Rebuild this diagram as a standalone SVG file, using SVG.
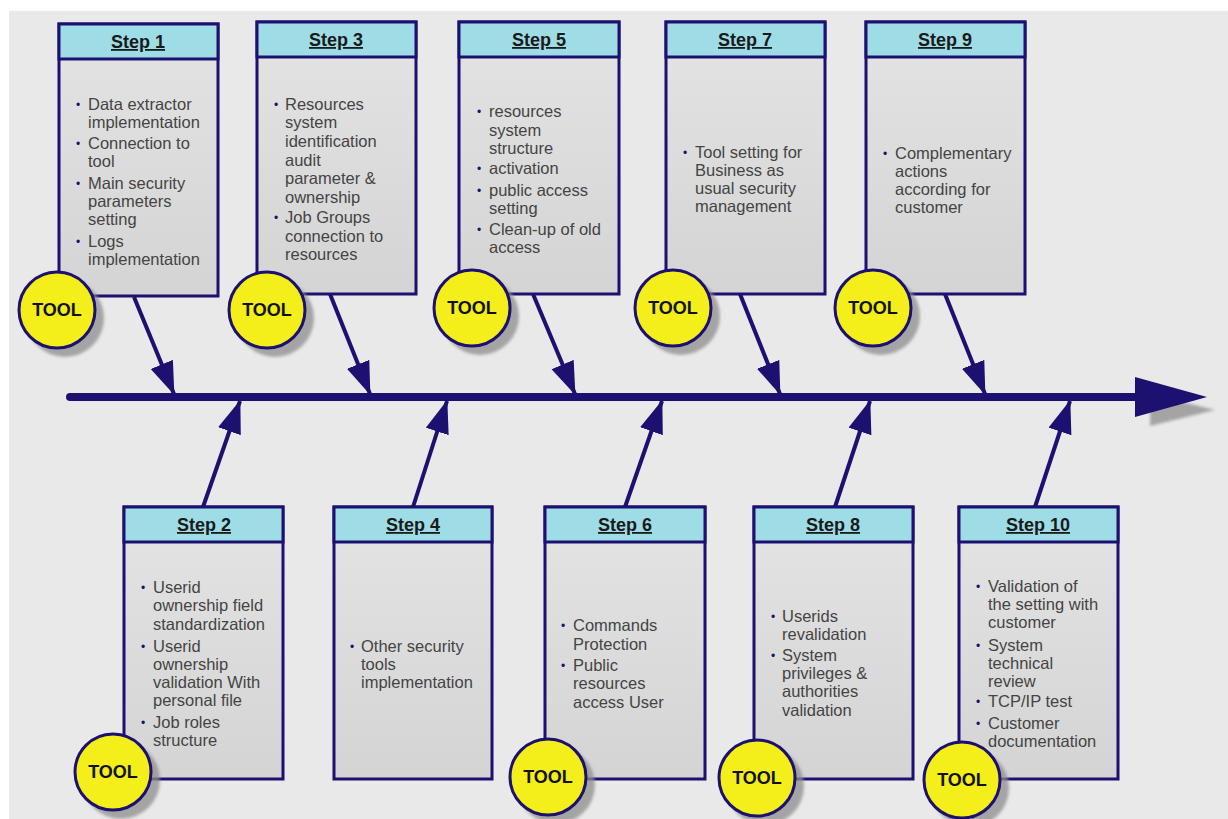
<svg xmlns="http://www.w3.org/2000/svg" width="1228" height="819" viewBox="0 0 1228 819">
<defs>
<style>
.hdr{fill:#9edde6;stroke:#1c1070;stroke-width:3}
.body{fill:url(#bg);stroke:#1c1070;stroke-width:3}
.ht{font-family:"Liberation Sans",Arial,sans-serif;font-size:18px;font-weight:bold;fill:#1a1a1a;text-anchor:middle;text-decoration:underline}
.bt{font-family:"Liberation Sans",Arial,sans-serif;font-size:16.5px;fill:#444444}
.bu{font-family:"Liberation Sans",Arial,sans-serif;font-size:12px;fill:#1c1070}
.tool{fill:#f4ee1a;stroke:#1c1070;stroke-width:3}
.tsh{fill:#8e8e8e;opacity:0.75}
.tt{font-family:"Liberation Sans",Arial,sans-serif;font-size:18px;font-weight:bold;fill:#111;text-anchor:middle}
.con{stroke:#1c1070;stroke-width:4;fill:none;marker-end:url(#ah)}
</style>
<linearGradient id="bg" x1="0" y1="0" x2="0" y2="1">
<stop offset="0" stop-color="#e4e4e4"/>
<stop offset="1" stop-color="#d4d4d4"/>
</linearGradient>
<filter id="blur" x="-20%" y="-20%" width="140%" height="140%"><feGaussianBlur stdDeviation="1.5"/></filter>
<marker id="ah" markerUnits="userSpaceOnUse" markerWidth="34" markerHeight="26" refX="32" refY="12" orient="auto">
<path d="M0,0 L33,12 L0,24 z" fill="#1c1070"/>
</marker>
</defs>
<rect x="0" y="0" width="1228" height="819" fill="#ffffff"/>
<rect x="9" y="11" width="1219" height="808" fill="#e9e9e9"/>

<g id="spine">
<line x1="80" y1="410" x2="1160" y2="410" stroke="#a4a4a4" stroke-width="6" filter="url(#blur)"/>
<polygon points="1150,394 1215,410 1150,426" fill="#a4a4a4" filter="url(#blur)"/>
<line x1="70" y1="397" x2="1145" y2="397" stroke="#1c1070" stroke-width="8" stroke-linecap="round"/>
<polygon points="1135,377 1207,397 1135,417" fill="#1c1070"/>
</g>

<g id="connectors">
<line class="con" x1="134" y1="297" x2="174" y2="394"/>
<line class="con" x1="330" y1="294" x2="370" y2="394"/>
<line class="con" x1="533" y1="294" x2="575" y2="394"/>
<line class="con" x1="740" y1="294" x2="780" y2="394"/>
<line class="con" x1="945" y1="294" x2="985" y2="394"/>
<line class="con" x1="203" y1="507" x2="240" y2="401"/>
<line class="con" x1="413" y1="507" x2="447" y2="401"/>
<line class="con" x1="625" y1="507" x2="662" y2="401"/>
<line class="con" x1="835" y1="507" x2="870" y2="401"/>
<line class="con" x1="1035" y1="507" x2="1070" y2="401"/>
</g>

<g id="step1">
<rect class="body" x="59" y="24" width="159" height="272"/>
<rect class="hdr" x="59" y="24" width="159" height="35"/>
<text class="ht" x="138" y="48">Step 1</text>
<text class="bu" x="76" y="109">•</text><text class="bt" x="88" y="110">Data extractor</text>
<text class="bt" x="88" y="128">implementation</text>
<text class="bu" x="76" y="148">•</text><text class="bt" x="88" y="149">Connection to</text>
<text class="bt" x="88" y="167">tool</text>
<text class="bu" x="76" y="188">•</text><text class="bt" x="88" y="189">Main security</text>
<text class="bt" x="88" y="207">parameters</text>
<text class="bt" x="88" y="225">setting</text>
<text class="bu" x="76" y="246">•</text><text class="bt" x="88" y="247">Logs</text>
<text class="bt" x="88" y="265">implementation</text>
<circle class="tsh" cx="65" cy="318" r="39" filter="url(#blur)"/>
<circle class="tool" cx="57" cy="310" r="38"/>
<text class="tt" x="57" y="316">TOOL</text>
</g>

<g id="step3">
<rect class="body" x="257" y="22" width="159" height="272"/>
<rect class="hdr" x="257" y="22" width="159" height="35"/>
<text class="ht" x="336" y="46">Step 3</text>
<text class="bu" x="274" y="109">•</text><text class="bt" x="285" y="110">Resources</text>
<text class="bt" x="285" y="128">system</text>
<text class="bt" x="285" y="147">identification</text>
<text class="bt" x="285" y="166">audit</text>
<text class="bt" x="285" y="184">parameter &amp;</text>
<text class="bt" x="285" y="203">ownership</text>
<text class="bu" x="274" y="222">•</text><text class="bt" x="285" y="223">Job Groups</text>
<text class="bt" x="285" y="242">connection to</text>
<text class="bt" x="285" y="260">resources</text>
<circle class="tsh" cx="275" cy="318" r="39" filter="url(#blur)"/>
<circle class="tool" cx="267" cy="310" r="38"/>
<text class="tt" x="267" y="316">TOOL</text>
</g>

<g id="step5">
<rect class="body" x="459" y="22" width="160" height="272"/>
<rect class="hdr" x="459" y="22" width="160" height="35"/>
<text class="ht" x="539" y="46">Step 5</text>
<text class="bu" x="477" y="116">•</text><text class="bt" x="489" y="117">resources</text>
<text class="bt" x="489" y="136">system</text>
<text class="bt" x="489" y="154">structure</text>
<text class="bu" x="477" y="173">•</text><text class="bt" x="489" y="174"> activation</text>
<text class="bu" x="477" y="195">•</text><text class="bt" x="489" y="196"> public access</text>
<text class="bt" x="489" y="214">setting</text>
<text class="bu" x="477" y="234">•</text><text class="bt" x="489" y="235">Clean-up of old</text>
<text class="bt" x="489" y="253">access</text>
<circle class="tsh" cx="480" cy="316" r="39" filter="url(#blur)"/>
<circle class="tool" cx="472" cy="308" r="38"/>
<text class="tt" x="472" y="314">TOOL</text>
</g>

<g id="step7">
<rect class="body" x="666" y="22" width="159" height="272"/>
<rect class="hdr" x="666" y="22" width="159" height="35"/>
<text class="ht" x="745" y="46">Step 7</text>
<text class="bu" x="683" y="157">•</text><text class="bt" x="695" y="158">Tool setting for</text>
<text class="bt" x="695" y="176">Business as</text>
<text class="bt" x="695" y="194">usual security</text>
<text class="bt" x="695" y="212">management</text>
<circle class="tsh" cx="681" cy="316" r="39" filter="url(#blur)"/>
<circle class="tool" cx="673" cy="308" r="38"/>
<text class="tt" x="673" y="314">TOOL</text>
</g>

<g id="step9">
<rect class="body" x="866" y="22" width="159" height="272"/>
<rect class="hdr" x="866" y="22" width="159" height="35"/>
<text class="ht" x="945" y="46">Step 9</text>
<text class="bu" x="883" y="158">•</text><text class="bt" x="895" y="159">Complementary</text>
<text class="bt" x="895" y="177">actions</text>
<text class="bt" x="895" y="195">according for</text>
<text class="bt" x="895" y="213">customer</text>
<circle class="tsh" cx="881" cy="316" r="39" filter="url(#blur)"/>
<circle class="tool" cx="873" cy="308" r="38"/>
<text class="tt" x="873" y="314">TOOL</text>
</g>

<g id="step2">
<rect class="body" x="124" y="507" width="159" height="272"/>
<rect class="hdr" x="124" y="507" width="159" height="35"/>
<text class="ht" x="204" y="531">Step 2</text>
<text class="bu" x="141" y="592">•</text><text class="bt" x="153" y="593">Userid</text>
<text class="bt" x="153" y="611">ownership field</text>
<text class="bt" x="153" y="630">standardization</text>
<text class="bu" x="141" y="651">•</text><text class="bt" x="153" y="652">Userid</text>
<text class="bt" x="153" y="670">ownership</text>
<text class="bt" x="153" y="688">validation With</text>
<text class="bt" x="153" y="706">personal file</text>
<text class="bu" x="141" y="727">•</text><text class="bt" x="153" y="728">Job roles</text>
<text class="bt" x="153" y="746">structure</text>
<circle class="tsh" cx="121" cy="780" r="39" filter="url(#blur)"/>
<circle class="tool" cx="113" cy="772" r="38"/>
<text class="tt" x="113" y="778">TOOL</text>
</g>

<g id="step4">
<rect class="body" x="334" y="507" width="158" height="272"/>
<rect class="hdr" x="334" y="507" width="158" height="35"/>
<text class="ht" x="413" y="531">Step 4</text>
<text class="bu" x="350" y="651">•</text><text class="bt" x="361" y="652">Other security</text>
<text class="bt" x="361" y="670">tools</text>
<text class="bt" x="361" y="688">implementation</text>
</g>

<g id="step6">
<rect class="body" x="545" y="507" width="160" height="272"/>
<rect class="hdr" x="545" y="507" width="160" height="35"/>
<text class="ht" x="625" y="531">Step 6</text>
<text class="bu" x="561" y="630">•</text><text class="bt" x="573" y="631">Commands</text>
<text class="bt" x="573" y="650">Protection</text>
<text class="bu" x="561" y="670">•</text><text class="bt" x="573" y="671">Public</text>
<text class="bt" x="573" y="689">resources</text>
<text class="bt" x="573" y="708">access User</text>
<circle class="tsh" cx="556" cy="785" r="39" filter="url(#blur)"/>
<circle class="tool" cx="548" cy="777" r="38"/>
<text class="tt" x="548" y="783">TOOL</text>
</g>

<g id="step8">
<rect class="body" x="754" y="507" width="159" height="272"/>
<rect class="hdr" x="754" y="507" width="159" height="35"/>
<text class="ht" x="833" y="531">Step 8</text>
<text class="bu" x="771" y="621">•</text><text class="bt" x="782" y="622">Userids</text>
<text class="bt" x="782" y="640">revalidation</text>
<text class="bu" x="771" y="660">•</text><text class="bt" x="782" y="661">System</text>
<text class="bt" x="782" y="679">privileges &amp;</text>
<text class="bt" x="782" y="697">authorities</text>
<text class="bt" x="782" y="716">validation</text>
<circle class="tsh" cx="765" cy="786" r="39" filter="url(#blur)"/>
<circle class="tool" cx="757" cy="778" r="38"/>
<text class="tt" x="757" y="784">TOOL</text>
</g>

<g id="step10">
<rect class="body" x="959" y="507" width="159" height="272"/>
<rect class="hdr" x="959" y="507" width="159" height="35"/>
<text class="ht" x="1038" y="531">Step 10</text>
<text class="bu" x="976" y="591">•</text><text class="bt" x="988" y="592">Validation of</text>
<text class="bt" x="988" y="610">the setting with</text>
<text class="bt" x="988" y="628">customer</text>
<text class="bu" x="976" y="650">•</text><text class="bt" x="988" y="651">System</text>
<text class="bt" x="988" y="669">technical</text>
<text class="bt" x="988" y="687">review</text>
<text class="bu" x="976" y="706">•</text><text class="bt" x="988" y="707">TCP/IP test</text>
<text class="bu" x="976" y="728">•</text><text class="bt" x="988" y="729">Customer</text>
<text class="bt" x="988" y="747">documentation</text>
<circle class="tsh" cx="970" cy="788" r="39" filter="url(#blur)"/>
<circle class="tool" cx="962" cy="780" r="38"/>
<text class="tt" x="962" y="786">TOOL</text>
</g>
</svg>
